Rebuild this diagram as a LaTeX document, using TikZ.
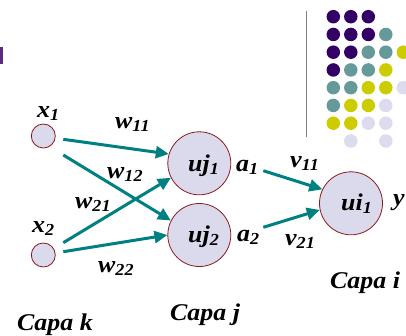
\documentclass[tikz,border=0pt]{standalone}
\usepackage{fontspec}
\setmainfont{Liberation Serif}[FakeStretch=1.08]
\usetikzlibrary{arrows.meta}
\definecolor{lav}{HTML}{DADAEC}
\definecolor{rim}{HTML}{8B1A1A}
\definecolor{arr}{HTML}{008080}
\definecolor{dpur}{HTML}{330066}
\definecolor{dteal}{HTML}{669999}
\definecolor{dyel}{HTML}{CCCC00}
\definecolor{dlav}{HTML}{DCDCEE}
\definecolor{tpur}{HTML}{5B2A86}
\begin{document}
\begin{tikzpicture}[x=1pt,y=-1pt,
  neuron/.style={circle,draw=rim,line width=0.8pt,fill=lav,inner sep=0pt,minimum size=63pt},
  inp/.style={circle,draw=rim,line width=0.8pt,fill=lav,inner sep=0pt,minimum size=24pt},
  lbl/.style={anchor=base west,inner sep=0pt,font=\fontsize{24}{28}\selectfont\bfseries\itshape},
  conn/.style={draw=arr,line width=3pt,-{Triangle[length=13pt,width=12pt]}},
  dot/.style={circle,inner sep=0pt,minimum size=13.5pt}]
\path[use as bounding box] (0,0) rectangle (406,335);
\clip (0,0) rectangle (406,335);
% title fragment
\fill[tpur] (0,47) rectangle (2.5,64);
% vertical rule
\draw[gray,line width=1.4pt] (306.7,11) -- (306.7,137);
% dots
\foreach \r/\cols in {1/{dpur,dpur,dpur},2/{dpur,dpur,dpur,dteal},3/{dpur,dpur,dteal,dteal,dyel},4/{dpur,dteal,dteal,dyel},5/{dteal,dteal,dyel,dyel,dlav},6/{dteal,dyel,dyel,dlav},7/{dyel,dyel,dlav,dlav}}{
  \foreach \c [count=\i] in \cols {
    \node[dot,fill=\c] (d\r-\i) at ({333.3+17.5*(\i-1)},{16.7+17.75*(\r-1)}) {};
  }
}
\node[dot,fill=dlav] (d8-2) at (350.8,141) {};
\node[dot,fill=dlav] (d8-4) at (385.8,141) {};
% neurons
\node[inp] (x1) at (43.3,136) {};
\node[inp] (x2) at (43.3,255) {};
\node[neuron] (uj1) at (199.3,163.3) {};
\node[neuron] (uj2) at (199.3,235) {};
\node[neuron] (ui1) at (351,203.3) {};
% labels
\node[lbl] (lx1) at (37,117) {x\textsubscript{1}};
\node[lbl] (lx2) at (32,232) {x\textsubscript{2}};
\node[lbl] (w11) at (115,128) {w\textsubscript{11}};
\node[lbl] (w12) at (107,178) {w\textsubscript{12}};
\node[lbl] (w21) at (75,208) {w\textsubscript{21}};
\node[lbl] (w22) at (98,272) {w\textsubscript{22}};
\node[lbl] (tuj1) at (188,171) {uj\textsubscript{1}};
\node[lbl] (tuj2) at (188,242) {uj\textsubscript{2}};
\node[lbl] (tui1) at (341,210) {ui\textsubscript{1}};
\node[lbl] (la1) at (236,171) {a\textsubscript{1}};
\node[lbl] (la2) at (237,241) {a\textsubscript{2}};
\node[lbl] (v11) at (290,167) {v\textsubscript{11}};
\node[lbl] (v21) at (285,245) {v\textsubscript{21}};
\node[lbl] (ly) at (393,205) {y};
\node[lbl] (ck) at (17,330) {Capa k};
\node[lbl] (cj) at (170,320) {Capa j};
\node[lbl] (ci) at (330,288) {Capa i};
% connector starts
\coordinate (s11) at (63.3,139.3);
\coordinate (s12) at (63.3,155);
\coordinate (s21) at (63.3,242.7);
\coordinate (s22) at (63.3,251.7);
\coordinate (sa1) at (263.3,170.7);
\coordinate (sa2) at (263.3,227.3);
\draw[conn] (s11) -- (uj1.163);
\draw[conn] (s12) -- (uj2.153);
\draw[conn] (s21) -- (uj1.207);
\draw[conn] (s22) -- (uj2.180);
\draw[conn] (sa1) -- (ui1.154);
\draw[conn] (sa2) -- (ui1.192.5);
\end{tikzpicture}
\end{document}
